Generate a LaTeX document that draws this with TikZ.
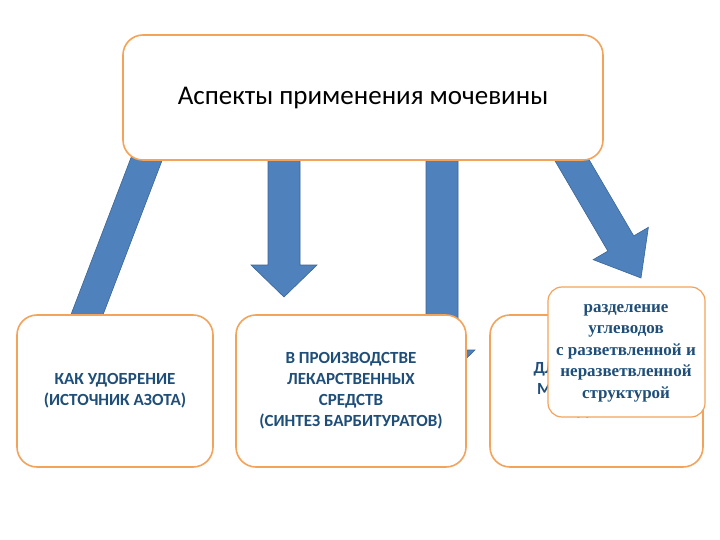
\documentclass[tikz,border=0pt]{standalone}
\usepackage{fontspec}
\setmainfont{Carlito}
\newfontfamily\serifx{Liberation Serif}
\usetikzlibrary{calc}
\definecolor{arrblue}{HTML}{4F81BD}
\definecolor{arredge}{HTML}{3A6595}
\definecolor{boxor}{HTML}{F3A35A}
\definecolor{txtblue}{HTML}{1F4E79}
\begin{document}
\begin{tikzpicture}[x=1pt,y=-1pt,
  ubox/.style={draw=boxor,line width=1.6pt,rounded corners=20pt,fill=white},
  btext/.style={font=\bfseries\fontsize{17}{21}\selectfont,text=txtblue,align=center},
  arr/.style={fill=arrblue,draw=arredge,line width=0.6pt,line join=miter}]
\useasboundingbox[fill=white] (0,0) rectangle (720,540);
\newcommand\blockarrow[5]{% A, B, half shaft, half head, head length
  \path[arr] ($(#1)!#3!-90:(#2)$) -- ($($(#2)!#5!(#1)$)!#3!-90:(#2)$)
    -- ($($(#2)!#5!(#1)$)!#4!-90:(#2)$) -- (#2)
    -- ($($(#2)!#5!(#1)$)!#4!90:(#2)$) -- ($($(#2)!#5!(#1)$)!#3!90:(#2)$)
    -- ($(#1)!#3!90:(#2)$) -- cycle;}
\coordinate (a1s) at (150,150); \coordinate (a1e) at (62,380);
\coordinate (a2s) at (284,155); \coordinate (a2e) at (284,297);
\coordinate (a3s) at (442,155); \coordinate (a3e) at (442,382);
\coordinate (a4s) at (566,150); \coordinate (a4e) at (641,278);
\blockarrow{a1s}{a1e}{15pt}{32pt}{34pt}
\blockarrow{a2s}{a2e}{16pt}{33pt}{32pt}
\blockarrow{a3s}{a3e}{16pt}{33pt}{32pt}
\blockarrow{a4s}{a4e}{15pt}{32pt}{40pt}
\draw[ubox] (123,35) rectangle (603,160);
\node (title) at (363,98) {\fontsize{27}{32}\selectfont Аспекты применения мочевины};
\draw[ubox] (17,315) rectangle (213,467);
\node[btext] (t1) at (115,391) {КАК УДОБРЕНИЕ\\(ИСТОЧНИК АЗОТА)};
\draw[ubox] (236,315) rectangle (466,467);
\node[btext] (t2) at (351,391) {В ПРОИЗВОДСТВЕ\\ЛЕКАРСТВЕННЫХ\\СРЕДСТВ\\(СИНТЕЗ БАРБИТУРАТОВ)};
\draw[ubox] (490,315) rectangle (703,467);
\node[btext] (t3) at (597,390) {ДЛЯ ПОЛУЧЕНИЯ\\МОЧЕВИНОВЫХ\\ГИДРАТОВ};
\draw[draw=boxor,line width=1.2pt,rounded corners=14pt,fill=white] (548,287) rectangle (705,417);
\node[font=\serifx\bfseries\fontsize{17}{21.5}\selectfont,text=txtblue,align=center] (ov) at (626,353)
  {разделение\\углеводов\\с разветвленной и\\неразветвленной\\структурой};
\end{tikzpicture}
\end{document}
